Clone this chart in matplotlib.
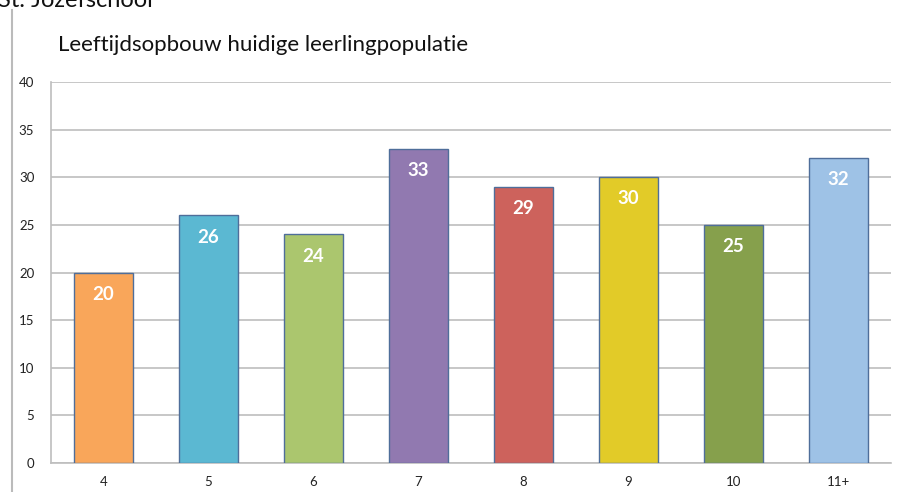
import matplotlib
matplotlib.use("Agg")
import matplotlib.pyplot as plt
from matplotlib.lines import Line2D

categories = ["4", "5", "6", "7", "8", "9", "10", "11+"]
values = [20, 26, 24, 33, 29, 30, 25, 32]
colors = ["#F9A65A", "#5BB8D2", "#ABC66E", "#9179B0", "#CD625C", "#E2CB28", "#86A04C", "#9EC2E6"]
yticks = [0, 5, 10, 15, 20, 25, 30, 35, 40]
title = "Leeftijdsopbouw huidige leerlingpopulatie"
header = "St. Jozefschool"

plt.rcParams['font.family'] = ['Lato', 'DejaVu Sans']

fig = plt.figure(figsize=(8.98, 4.92), dpi=100)
ax = fig.add_axes([51/898, 29/492, 840/898, 381/492])

x = list(range(len(categories)))
ax.bar(x, values, width=0.57, color=colors, edgecolor="#4F6E9A", linewidth=1.0, zorder=3)
for xi, v in zip(x, values):
    ax.annotate(str(v), (xi, v), xytext=(0, -9.5), textcoords="offset points",
                ha="center", va="top", color="white", fontsize=13.5, fontweight="bold", zorder=4)

ax.set_xlim(-0.5, len(categories) - 0.5)
ax.set_ylim(0, 40)
ax.set_yticks(yticks)
ax.set_xticks(x)
ax.set_xticklabels(categories)
ax.yaxis.grid(True, color="#BEBEBE", linewidth=1.2, zorder=0)
ax.set_axisbelow(True)
ax.tick_params(axis="both", length=0, labelsize=9.5, colors="#222222")
ax.tick_params(axis="y", pad=12)
ax.tick_params(axis="x", pad=9)
for s in ["top", "right"]:
    ax.spines[s].set_visible(False)
ax.spines["left"].set_color("#BEBEBE")
ax.spines["bottom"].set_color("#BEBEBE")
ax.spines["left"].set_linewidth(1.2)
ax.spines["bottom"].set_linewidth(1.2)

fig.text(58/898, 1 - 45/492, title, fontsize=16, color="#111111", ha="left", va="center")
fig.text(-2/898, 1 - 7/492, header, fontsize=17, color="#111111", ha="left", va="baseline")
fig.add_artist(Line2D([12/898, 12/898], [0, 1 - 10/492], transform=fig.transFigure,
                      color="#BBBBBB", linewidth=1.5))

fig.savefig("out.png", dpi=100)
